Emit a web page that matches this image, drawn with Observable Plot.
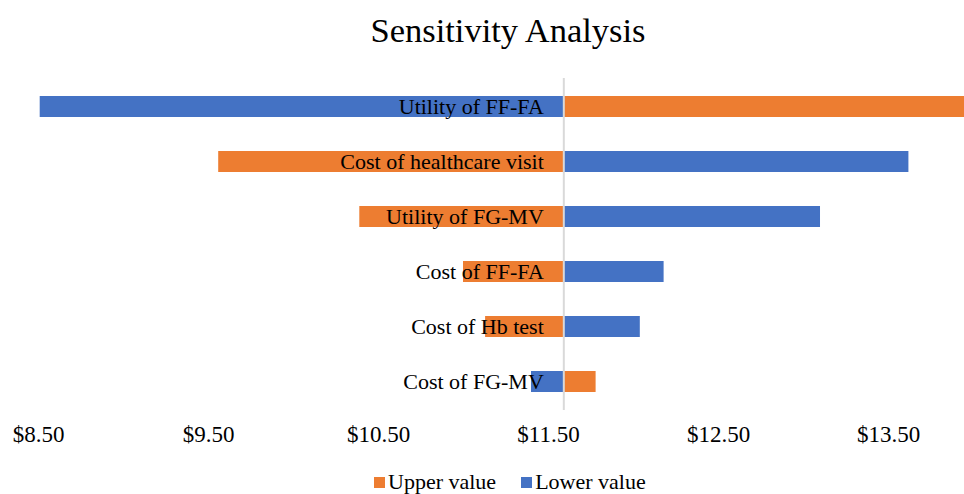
<!DOCTYPE html>
<html>
<head>
<meta charset="utf-8">
<script src="https://cdn.jsdelivr.net/npm/d3@7"></script>
<script src="https://cdn.jsdelivr.net/npm/@observablehq/plot@0.6"></script>
<style>
  html, body { margin: 0; padding: 0; background: #fff; }
  body { width: 964px; height: 494px; position: relative; overflow: hidden; font-family: "Liberation Serif", "Times New Roman", serif; }
  #title { position: absolute; top: 0; left: 26px; width: 964px; height: 60px; line-height: 60px; text-align: center; font-size: 34.5px; color: #000; white-space: nowrap; }
  #chart { position: absolute; top: 62px; left: 0; }
  #chart svg, #chart svg text { font-family: "Liberation Serif", "Times New Roman", serif !important; }
  #legend { position: absolute; top: 470px; left: 374px; height: 24px; display: flex; align-items: center; font-size: 22px; color: #000; white-space: nowrap; }
  .item { display: flex; align-items: center; margin-right: 25px; }
  .sw { width: 11px; height: 11px; margin-right: 3px; }
</style>
</head>
<body>
<div id="title">Sensitivity Analysis</div>
<div id="chart"></div>
<div id="legend"></div>
<script>
const categories = ["Utility of FF-FA", "Cost of healthcare visit", "Utility of FG-MV", "Cost of FF-FA", "Cost of Hb test", "Cost of FG-MV"];
const upperValues = [14.10, 9.56, 10.39, 11.00, 11.13, 11.78];
const lowerValues = [8.51, 13.62, 13.10, 12.18, 12.04, 11.40];
const baseValue = 11.59;
const tickValues = [8.5, 9.5, 10.5, 11.5, 12.5, 13.5];
const seriesNames = ["Upper value", "Lower value"];
const seriesColors = ["#ED7D31", "#4472C4"];

const rows = [];
categories.forEach((c, i) => {
  rows.push({category: c, series: seriesNames[0], value: upperValues[i]});
  rows.push({category: c, series: seriesNames[1], value: lowerValues[i]});
});

const serif = "'Liberation Serif', 'Times New Roman', serif";

const chart = Plot.plot({
  width: 964,
  height: 400,
  marginLeft: 38,
  marginRight: 0,
  marginTop: 16,
  marginBottom: 52,
  style: `font-family: ${serif}; font-size: 22px; color: #000; background: #fff;`,
  x: {domain: [8.5, 13.947]},
  y: {domain: categories, paddingInner: 0.613, paddingOuter: 0.3065, axis: null},
  color: {domain: seriesNames, range: seriesColors},
  marks: [
    Plot.barX(rows, {y: "category", x1: () => baseValue, x2: "value", fill: "series", clip: true}),
    Plot.ruleX([baseValue], {stroke: "#d9d9d9", strokeWidth: 2}),
    Plot.text(categories, {y: d => d, x: () => baseValue, dx: -20, textAnchor: "end", fontSize: 22, fontFamily: serif, fill: "#000"}),
    Plot.axisX({ticks: tickValues, tickFormat: d => "$" + d.toFixed(2), tickSize: 0, tickPadding: 15, fontSize: 23, fontFamily: serif, label: null})
  ]
});
document.getElementById("chart").appendChild(chart);

const legend = document.getElementById("legend");
seriesNames.forEach((name, i) => {
  const it = document.createElement("div");
  it.className = "item";
  const sw = document.createElement("div");
  sw.className = "sw";
  sw.style.background = seriesColors[i];
  const t = document.createElement("span");
  t.textContent = name;
  it.appendChild(sw);
  it.appendChild(t);
  legend.appendChild(it);
});
</script>
</body>
</html>
